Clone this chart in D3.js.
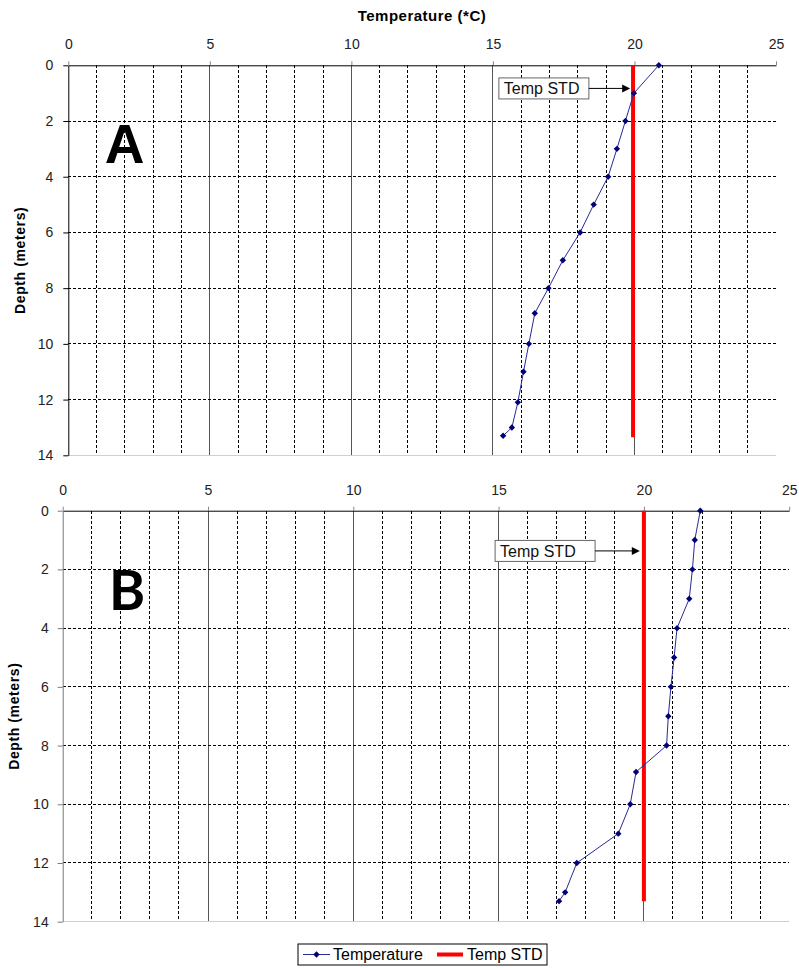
<!DOCTYPE html>
<html>
<head>
<meta charset="utf-8">
<script src="https://cdn.jsdelivr.net/npm/d3@7"></script>
<style>
  body { margin: 0; background: #fff; }
  text { font-family: "Liberation Sans", Arial, sans-serif; }
</style>
</head>
<body>
<div id="chart"></div>
<script>
// depth profiles (meters) and temperatures (*C)
const depthsA = [0, 1, 2, 3, 4, 5, 6, 7, 8, 8.9, 10, 11, 12.1, 13, 13.3]
const tempA = [20.86, 19.98, 19.68, 19.38, 19.07, 18.56, 18.08, 17.47, 16.96, 16.48, 16.27, 16.08, 15.88, 15.67, 15.36]
const depthsB = [0, 1, 2, 3, 4, 5, 6, 7, 8, 8.9, 10, 11, 12, 13, 13.3]
const tempB = [21.94, 21.75, 21.67, 21.56, 21.14, 21.04, 20.93, 20.84, 20.78, 19.73, 19.53, 19.12, 17.69, 17.29, 17.08]
const stdDepthA = [0, 13.35]
const stdA = [19.95, 19.95]
const stdDepthB = [0, 13.3]
const stdB = [20, 20]
const xTicks = [0, 5, 10, 15, 20, 25]
const yTicks = [0, 2, 4, 6, 8, 10, 12, 14]

const width = 799
const height = 968

const svg = d3.select('#chart').append('svg')
  .attr('width', width)
  .attr('height', height)

// little diamond marker
const diamond = d3.symbol().type(d3.symbolDiamond2).size(26)

function panel(cfg) {
  const x = d3.scaleLinear().domain([0, 25]).range([cfg.left, cfg.right])
  const y = d3.scaleLinear().domain([0, 14]).range([cfg.top, cfg.bottom])
  const g = svg.append('g')

  // vertical grid, every degree; solid at every 5
  d3.range(1, 25).forEach(v => {
    const major = v % 5 === 0
    g.append('line')
      .attr('x1', x(v)).attr('x2', x(v))
      .attr('y1', y(0)).attr('y2', y(14))
      .attr('stroke', major ? '#555' : '#000')
      .attr('stroke-width', 1)
      .attr('stroke-dasharray', major ? null : '3,2')
      .attr('shape-rendering', 'crispEdges')
  })
  // horizontal grid
  yTicks.slice(1, -1).forEach(v => {
    g.append('line')
      .attr('x1', x(0)).attr('x2', x(25))
      .attr('y1', y(v)).attr('y2', y(v))
      .attr('stroke', '#000')
      .attr('stroke-dasharray', '3,2')
      .attr('shape-rendering', 'crispEdges')
  })
  // bottom edge
  g.append('line')
    .attr('x1', x(0)).attr('x2', x(25))
    .attr('y1', y(14)).attr('y2', y(14))
    .attr('stroke', '#d0d0d0')
    .attr('shape-rendering', 'crispEdges')

  // top axis
  const xAxis = g.append('g')
    .attr('transform', `translate(0,${y(0)})`)
    .call(d3.axisTop(x).tickValues(xTicks).tickSize(4).tickPadding(12).tickSizeOuter(0))
  xAxis.select('.domain').attr('stroke', '#000')
  xAxis.selectAll('.tick line').attr('stroke', '#888')
  xAxis.selectAll('text').attr('font-size', 14).attr('fill', '#222')

  // left axis
  const yAxis = g.append('g')
    .attr('transform', `translate(${x(0)},0)`)
    .call(d3.axisLeft(y).tickValues(yTicks).tickSize(5).tickPadding(cfg.yPad).tickSizeOuter(0))
  yAxis.select('.domain').attr('stroke', cfg.axisColor)
  yAxis.selectAll('.tick line').attr('stroke', cfg.axisColor)
  yAxis.selectAll('text').attr('font-size', 14).attr('fill', '#222')

  // y title
  g.append('text')
    .attr('transform', `translate(${cfg.yTitleX},${(y(0) + y(14)) / 2}) rotate(-90)`)
    .attr('text-anchor', 'middle')
    .attr('dy', '0.35em')
    .attr('font-size', 14)
    .attr('letter-spacing', 0.6)
    .attr('font-weight', 'bold')
    .text('Depth (meters)')

  // panel letter
  g.append('text')
    .attr('x', cfg.letterX)
    .attr('y', cfg.letterY)
    .attr('text-anchor', 'middle')
    .attr('font-size', 55)
    .attr('font-weight', 'bold')
    .style('font-family', cfg.letterFont)
    .text(cfg.letter)

  // STD line
  const line = d3.line().x(d => x(d[0])).y(d => y(d[1]))
  g.append('path')
    .datum(d3.zip(cfg.std, cfg.stdDepth))
    .attr('d', line)
    .attr('stroke', '#ff0000')
    .attr('stroke-width', 4)
    .attr('fill', 'none')

  // temperature profile
  const pts = d3.zip(cfg.temp, cfg.depths)
  g.append('path')
    .datum(pts)
    .attr('d', line)
    .attr('stroke', '#2a2a96')
    .attr('stroke-width', 1)
    .attr('fill', 'none')
  g.selectAll('path.pt').data(pts).enter()
    .append('path')
    .classed('pt', true)
    .attr('d', diamond)
    .attr('transform', d => `translate(${x(d[0])},${y(d[1])})`)
    .attr('fill', '#00007a')

  // annotation
  const a = cfg.note
  g.append('rect')
    .attr('x', x(a.boxX0)).attr('y', y(a.depth) - 10.5)
    .attr('width', x(a.boxX1) - x(a.boxX0)).attr('height', 21)
    .attr('fill', '#fff')
    .attr('stroke', '#666')
  g.append('text')
    .attr('x', x(a.boxX0) + 5)
    .attr('y', y(a.depth))
    .attr('dy', '0.36em')
    .attr('font-size', 16)
    .attr('fill', '#111')
    .text('Temp STD')
  g.append('line')
    .attr('x1', x(a.boxX1)).attr('x2', x(a.tipX) - 6)
    .attr('y1', y(a.depth)).attr('y2', y(a.depth))
    .attr('stroke', '#000')
  g.append('path')
    .attr('d', `M${x(a.tipX)},${y(a.depth)} l-8,-4 l0,8 Z`)
    .attr('fill', '#000')
}

panel({
  left: 68.3, right: 776, top: 65.3, bottom: 455.3,
  depths: depthsA, temp: tempA, stdDepth: stdDepthA, std: stdA,
  letter: 'A', letterX: 124.5, letterY: 163, letterFont: '"Liberation Sans", Arial, sans-serif',
  yPad: 10, yTitleX: 20, axisColor: '#000',
  note: { boxX0: 15.21, boxX1: 18.39, tipX: 19.85, depth: 0.83 }
})

panel({
  left: 62.7, right: 789.2, top: 510.7, bottom: 921.7,
  depths: depthsB, temp: tempB, stdDepth: stdDepthB, std: stdB,
  letter: 'B', letterX: 127, letterY: 610, letterFont: 'Lato, sans-serif',
  yPad: 9, yTitleX: 14.5, axisColor: '#777',
  note: { boxX0: 14.88, boxX1: 18.32, tipX: 19.86, depth: 1.37 }
})

// top title
svg.append('text')
  .attr('x', 422)
  .attr('y', 21)
  .attr('text-anchor', 'middle')
  .attr('font-size', 15)
  .attr('letter-spacing', 0.5)
  .attr('font-weight', 'bold')
  .text('Temperature (*C)')

// legend
const legend = svg.append('g').attr('transform', 'translate(298,944)')
legend.append('rect')
  .attr('width', 249).attr('height', 21)
  .attr('fill', '#fff').attr('stroke', '#000')
legend.append('line')
  .attr('x1', 5).attr('x2', 32).attr('y1', 10.5).attr('y2', 10.5)
  .attr('stroke', '#2a2a96')
legend.append('path')
  .attr('d', diamond)
  .attr('transform', 'translate(18.5,10.5)')
  .attr('fill', '#00007a')
legend.append('text')
  .attr('x', 35).attr('y', 10.5).attr('dy', '0.36em')
  .attr('font-size', 16)
  .text('Temperature')
legend.append('line')
  .attr('x1', 139).attr('x2', 165).attr('y1', 10.5).attr('y2', 10.5)
  .attr('stroke', '#ff0000').attr('stroke-width', 4)
legend.append('text')
  .attr('x', 169).attr('y', 10.5).attr('dy', '0.36em')
  .attr('font-size', 16)
  .text('Temp STD')
</script>
</body>
</html>
